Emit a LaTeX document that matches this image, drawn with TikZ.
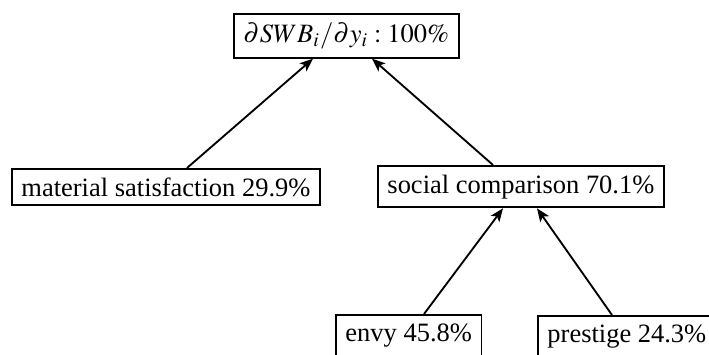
\documentclass[tikz,border=0pt]{standalone}
\usepackage{mathptmx}
\usepackage[no-math]{fontspec}
\setmainfont{Liberation Serif}
\usetikzlibrary{arrows.meta,calc}

\tikzset{
  share/.style={draw,line width=0.7pt,anchor=north west,inner xsep=3.6pt,inner ysep=3.3pt,font=\fontsize{10}{12}\selectfont},
  link/.style={line width=0.7pt,-{Stealth[length=5pt,width=4pt,inset=1.2pt]}}
}

\begin{document}
\begin{tikzpicture}[x=0.01327cm,y=-0.01327cm]
\clip (0,0) rectangle (709,355);

% boxes
\node[share] (total) at (233,13) {$\partial SWB_i/\partial y_i:100\%$};
\node[share] (material) at (11,168) {material satisfaction 29.9\%};
\node[share] (social) at (377,165) {social comparison 70.1\%};
\node[share] (envy) at (335,314) {envy 45.8\%};
\node[share] (prestige) at (537,315) {prestige 24.3\%};

% arrows
\draw[link] ($(material.north west)+(176,0)$) -- ($(total.south west)+(80,0)$);
\draw[link] ($(social.north west)+(116,0)$) -- ($(total.south west)+(139,0)$);
\draw[link] ($(envy.north west)+(89,0)$) -- ($(social.south west)+(126,0)$);
\draw[link] ($(prestige.north west)+(75,0)$) -- ($(social.south west)+(160,0)$);

\end{tikzpicture}
\end{document}
